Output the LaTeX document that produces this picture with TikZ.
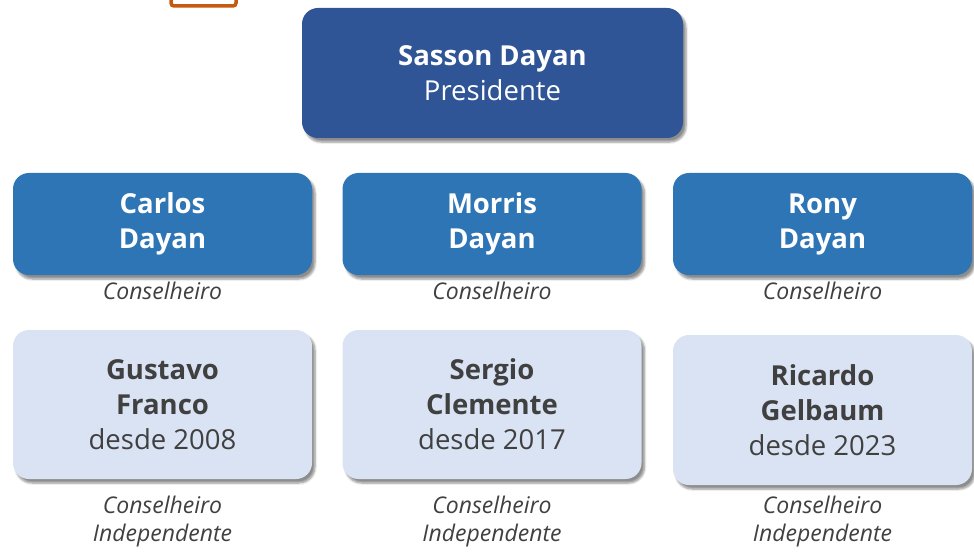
\documentclass[tikz,border=0pt]{standalone}
\usepackage{fontspec}
\setmainfont{Open Sans}
\usepackage{xcolor}
\usetikzlibrary{shadows.blur}

\definecolor{presblue}{HTML}{2F5597}
\definecolor{midblue}{HTML}{2E75B6}
\definecolor{paleblue}{HTML}{DAE3F3}
\definecolor{textgray}{HTML}{404040}
\definecolor{frameorange}{HTML}{C55A11}

\begin{document}
\begin{tikzpicture}[x=1pt,y=-1pt,
	box/.style={rounded corners=16pt, align=center, inner sep=0pt,
		blur shadow={shadow xshift=3pt, shadow yshift=-4pt, shadow blur steps=6, shadow opacity=45}},
	namefont/.style={font=\fontsize{27.5}{35}\selectfont},
	rolefont/.style={font=\fontsize{23}{28}\selectfont\itshape, text=textgray, align=center}]

\useasboundingbox (0,0) rectangle (974,556);
\clip (0,0) rectangle (974,556);

% frame cut by the top edge
\draw[frameorange, line width=3.5pt, rounded corners=3pt] (171,-20) rectangle (236,6);

% chairman
\node[box, namefont, fill=presblue, text=white, minimum width=381pt, minimum height=130pt] (pres) at (492.5,73)
	{\textbf{Sasson Dayan}\\Presidente};

% board members
\foreach \x/\id/\first/\last in {162.5/carlos/Carlos/Dayan, 492/morris/Morris/Dayan, 822.5/rony/Rony/Dayan}{
	\node[box, namefont, fill=midblue, text=white, minimum width=299pt, minimum height=102pt] (\id) at (\x,224)
		{\textbf{\first}\\\textbf{\last}};
	\node[rolefont] (\id-role) at (\x,291) {Conselheiro};
}

% independent members
\node[box, namefont, fill=paleblue, text=textgray, minimum width=299pt, minimum height=149pt] (gustavo) at (162.5,404.5)
	{\textbf{Gustavo}\\\textbf{Franco}\\desde 2008};
\node[box, namefont, fill=paleblue, text=textgray, minimum width=299pt, minimum height=149pt] (sergio) at (492,404.5)
	{\textbf{Sergio}\\\textbf{Clemente}\\desde 2017};
\node[box, namefont, fill=paleblue, text=textgray, minimum width=299pt, minimum height=150pt] (ricardo) at (822.5,410)
	{\textbf{Ricardo}\\\textbf{Gelbaum}\\desde 2023};

\node[rolefont] (gustavo-role) at (162.5,522) {Conselheiro\\Independente};
\node[rolefont] (sergio-role) at (492,522) {Conselheiro\\Independente};
\node[rolefont] (ricardo-role) at (822.5,522) {Conselheiro\\Independente};

\end{tikzpicture}
\end{document}
